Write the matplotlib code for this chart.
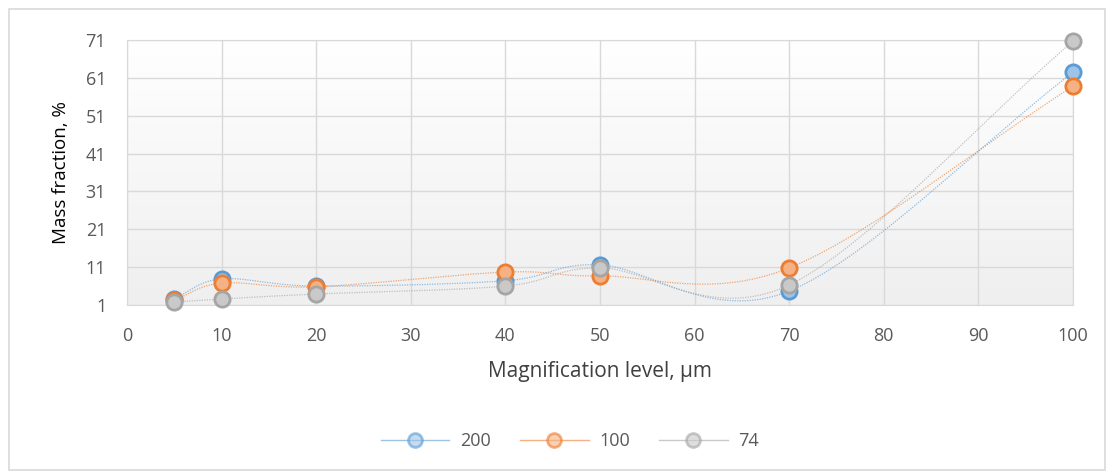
import numpy as np
import matplotlib.pyplot as plt
from matplotlib.patches import Rectangle
from matplotlib.colors import LinearSegmentedColormap

# data
magnification = [5, 10, 20, 40, 50, 70, 100]
mass_200 = [2.7, 7.9, 6.0, 7.4, 11.6, 4.7, 62.5]
mass_100 = [2.3, 6.8, 5.8, 9.7, 8.7, 10.8, 58.8]
mass_74 = [1.8, 2.6, 3.9, 6.0, 10.8, 6.3, 70.7]
series_names = ["200", "100", "74"]
y_ticks = [1, 11, 21, 31, 41, 51, 61, 71]
x_ticks = [0, 10, 20, 30, 40, 50, 60, 70, 80, 90, 100]

plt.rcParams['font.family'] = ['Open Sans', 'DejaVu Sans']


def smooth(x, y, n=40):
    # Catmull-Rom style curve like the Excel "smoothed line"
    x = np.asarray(x, float)
    y = np.asarray(y, float)
    px = np.concatenate([[2 * x[0] - x[1]], x, [2 * x[-1] - x[-2]]])
    py = np.concatenate([[2 * y[0] - y[1]], y, [2 * y[-1] - y[-2]]])
    xs, ys = [], []
    t = np.linspace(0, 1, n)
    for i in range(1, len(px) - 2):
        p0, p1, p2, p3 = [np.array([px[j], py[j]]) for j in range(i - 1, i + 3)]
        b1 = p1 + (p2 - p0) / 6
        b2 = p2 - (p3 - p1) / 6
        pts = ((1 - t) ** 3)[:, None] * p1 + (3 * (1 - t) ** 2 * t)[:, None] * b1 \
            + (3 * (1 - t) * t ** 2)[:, None] * b2 + (t ** 3)[:, None] * p2
        xs.extend(pts[:, 0])
        ys.extend(pts[:, 1])
    return np.array(xs), np.array(ys)


fig = plt.figure(figsize=(11.15, 4.75), dpi=100)
fig.patches.append(Rectangle((9 / 1115, 5 / 475), 1096 / 1115, 461 / 475,
                             transform=fig.transFigure, fill=False,
                             edgecolor='#d9d9d9', linewidth=1.2))
ax = fig.add_axes([127 / 1115, 1 - 305 / 475, 946 / 1115, 265 / 475])

# gradient background of the plot area
grad = np.linspace(1, 0, 256).reshape(-1, 1)
ax.imshow(grad, extent=[0, 1, 0, 1], transform=ax.transAxes, aspect='auto',
          cmap=LinearSegmentedColormap.from_list('bg', ['#efefef', '#ffffff']),
          vmin=0, vmax=1, zorder=0)

styles = [
    (mass_200, '#5b9bd5', '#9dc3e6'),
    (mass_100, '#ed7d31', '#f4b183'),
    (mass_74, '#a5a5a5', '#c9c9c9'),
]
for (vals, edge, face), name in zip(styles, series_names):
    sx, sy = smooth(magnification, vals)
    ax.plot(sx, sy, color=edge, linewidth=0.9, linestyle=(0, (1, 1)), alpha=0.65, zorder=2)
    ax.plot(magnification, vals, linestyle='none', marker='o', markersize=11,
            markerfacecolor=face, markeredgecolor=edge, markeredgewidth=2,
            zorder=3, clip_on=False)
    ax.plot([], [], color=edge, linewidth=1, alpha=0.6, marker='o', markersize=10,
            markerfacecolor=face, markeredgecolor=edge, markeredgewidth=2, label=name)

ax.set_xlim(0, 100)
ax.set_ylim(1, 71)
ax.set_xticks(x_ticks)
ax.set_yticks(y_ticks)
ax.grid(True, color='#d9d9d9', linewidth=1)
ax.set_axisbelow(True)
for s in ax.spines.values():
    s.set_color('#d9d9d9')
ax.tick_params(axis='x', length=0, labelsize=13, labelcolor='#595959', pad=16)
ax.tick_params(axis='y', length=0, labelsize=13, labelcolor='#595959', pad=15)
ax.set_xlabel("Magnification level, µm", fontsize=15, color='#404040', labelpad=11)
ax.set_ylabel("Mass fraction, %", fontsize=13.5, color='#000000', labelpad=11)

fig.legend(loc='center', bbox_to_anchor=(570 / 1115, 1 - 441 / 475), ncol=3,
           frameon=False, fontsize=13, labelcolor='#595959', handlelength=3.8,
           columnspacing=1.6, handletextpad=0.6)

fig.savefig("out.png", dpi=100)
